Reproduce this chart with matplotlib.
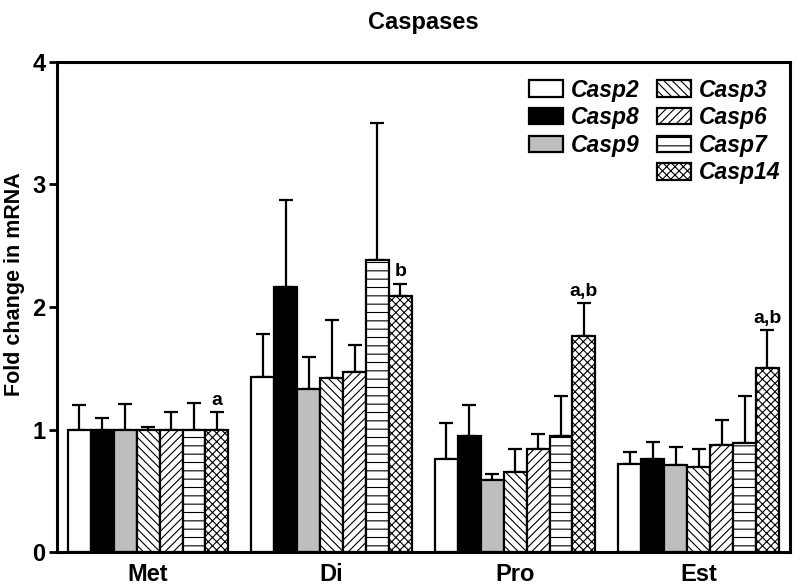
import numpy as np
import matplotlib.pyplot as plt
from matplotlib.patches import Patch

plt.rcParams['font.family'] = ['Liberation Sans', 'DejaVu Sans']
plt.rcParams['font.weight'] = 'bold'
plt.rcParams['hatch.linewidth'] = 0.8

groups = ['Met', 'Di', 'Pro', 'Est']
genes = ['Casp2', 'Casp8', 'Casp9', 'Casp3', 'Casp6', 'Casp7', 'Casp14']

# mean fold change per gene, one value per group (Met, Di, Pro, Est)
means = {
    'Casp2':  [1.00, 1.43, 0.76, 0.72],
    'Casp8':  [1.00, 2.16, 0.95, 0.76],
    'Casp9':  [1.00, 1.33, 0.59, 0.71],
    'Casp3':  [1.00, 1.42, 0.65, 0.69],
    'Casp6':  [1.00, 1.47, 0.84, 0.87],
    'Casp7':  [1.00, 2.38, 0.95, 0.89],
    'Casp14': [1.00, 2.09, 1.76, 1.50],
}
# upper error (SEM)
errs = {
    'Casp2':  [0.20, 0.35, 0.29, 0.10],
    'Casp8':  [0.09, 0.71, 0.25, 0.14],
    'Casp9':  [0.21, 0.26, 0.05, 0.15],
    'Casp3':  [0.02, 0.47, 0.19, 0.15],
    'Casp6':  [0.14, 0.22, 0.12, 0.21],
    'Casp7':  [0.22, 1.12, 0.32, 0.38],
    'Casp14': [0.14, 0.10, 0.27, 0.31],
}
sig_labels = ['a', 'b', 'a,b', 'a,b']

colors = {'Casp2': 'white', 'Casp8': 'black', 'Casp9': '#bebebe',
          'Casp3': 'white', 'Casp6': 'white', 'Casp7': 'white', 'Casp14': 'white'}
hatches = {'Casp2': '', 'Casp8': '', 'Casp9': '', 'Casp3': '\\\\\\\\',
           'Casp6': '////', 'Casp7': '--', 'Casp14': 'xxxx'}

fig = plt.figure(figsize=(8, 5.88), dpi=100)
ax = fig.add_axes([0.071, 0.0612, 0.917, 0.8334])

group_pos = np.arange(len(groups)) * 8
for j, g in enumerate(genes):
    x = group_pos + j
    ax.bar(x, means[g], width=1, align='edge', color=colors[g], edgecolor='black',
           linewidth=1.6, hatch=hatches[g], zorder=2)
    ax.errorbar(x + 0.5, means[g], yerr=[np.zeros(4), errs[g]], fmt='none',
                ecolor='black', elinewidth=1.6, capsize=4.7, capthick=1.6, zorder=1)

# significance letters above Casp14
for i, lab in enumerate(sig_labels):
    top = means['Casp14'][i] + errs['Casp14'][i]
    ax.text(group_pos[i] + 6.5, top + 0.03, lab, ha='center', va='bottom',
            fontsize=14, fontweight='bold')

ax.set_xlim(-0.48, 31.5)
ax.set_ylim(0, 4)
ax.set_yticks([0, 1, 2, 3, 4])
ax.set_xticks(group_pos + 3.5)
ax.set_xticklabels(groups, fontsize=17, fontweight='bold')
ax.tick_params(axis='x', length=0, pad=8)
ax.tick_params(axis='y', labelsize=17, width=2, length=6, pad=2)
for s in ax.spines.values():
    s.set_linewidth(2.2)
ax.set_ylabel('Fold change in mRNA', fontsize=15.5, fontweight='bold')
ax.yaxis.set_label_coords(-0.0437, 0.547)
ax.set_title('Caspases', fontsize=17, fontweight='bold', pad=24)

handles = [Patch(facecolor=colors[g], edgecolor='black', linewidth=1.6, hatch=hatches[g])
           for g in genes[:3]]
handles.append(Patch(facecolor='none', edgecolor='none'))
handles += [Patch(facecolor=colors[g], edgecolor='black', linewidth=1.6, hatch=hatches[g])
            for g in genes[3:]]
labels = genes[:3] + [''] + genes[3:]
leg = ax.legend(handles, labels, ncol=2, loc='upper left',
                bbox_to_anchor=(0.643, 0.966), frameon=False, borderpad=0,
                borderaxespad=0, handlelength=1.5, handleheight=0.72,
                handletextpad=0.35, columnspacing=0.75, labelspacing=0.2,
                prop={'size': 16.5, 'weight': 'bold', 'style': 'italic'})

fig.savefig('out.png', dpi=100)
